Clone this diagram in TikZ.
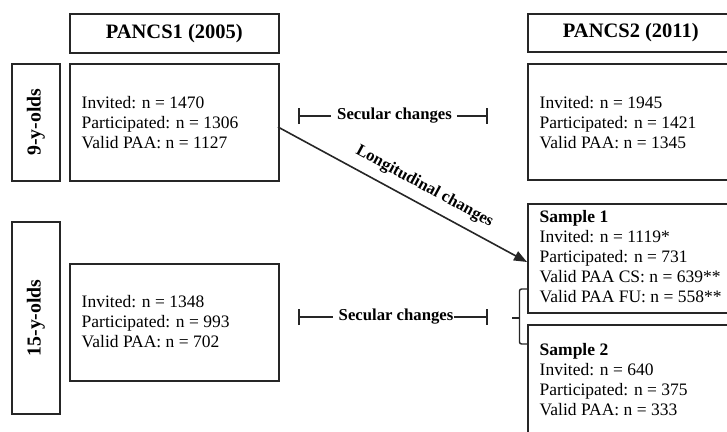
\documentclass[tikz,border=0pt]{standalone}
\usepackage{fontspec}
\setmainfont{Liberation Serif}
\usetikzlibrary{arrows.meta}
\tikzset{
  box/.style={draw=black!85, line width=1.6pt, anchor=north west, inner sep=0pt},
  datatext/.style={anchor=west, align=left, inner sep=0pt, font=\fontsize{17.5}{20}\selectfont},
  headtext/.style={font=\fontsize{20.5}{24}\selectfont\bfseries, inner sep=0pt},
  agetext/.style={font=\fontsize{19.8}{22}\selectfont\bfseries, rotate=90, inner sep=0pt},
  lbl/.style={font=\fontsize{16.7}{20}\selectfont\bfseries, inner sep=0pt},
  conn/.style={draw=black!85, line width=1.6pt},
}
\begin{document}
\begin{tikzpicture}[x=1pt,y=-1pt]
\useasboundingbox (0,0) rectangle (727,431);
\clip (0,0) rectangle (727,431);
% headers
\node[box, minimum width=209pt, minimum height=39pt] (h1) at (69,13) {};
\node[headtext] (h1t) at (h1.center) {PANCS1 (2005)};
\node[box, minimum width=206pt, minimum height=38pt] (h2) at (527,13) {};
\node[headtext] (h2t) at (h2.center) {PANCS2 (2011)};
% age boxes
\node[box, minimum width=48pt, minimum height=117pt] (a9) at (11,63) {};
\node[agetext] (a9t) at (a9.center) {9-y-olds};
\node[box, minimum width=48pt, minimum height=192pt] (a15) at (11,221) {};
\node[agetext] (a15t) at (a15.center) {15-y-olds};
% data boxes
\node[box, minimum width=209pt, minimum height=117pt] (p1a) at (69,63) {};
\node[datatext] (p1at) at (81.5,123) {Invited: n = 1470\\Participated: n = 1306\\Valid PAA: n = 1127};
\node[box, minimum width=209pt, minimum height=116pt] (p2a) at (527,63) {};
\node[datatext] (p2at) at (539.5,123) {Invited: n = 1945\\Participated: n = 1421\\Valid PAA: n = 1345};
\node[box, minimum width=209pt, minimum height=117pt] (p1b) at (69,263) {};
\node[datatext] (p1bt) at (81.5,322) {Invited: n = 1348\\Participated: n = 993\\Valid PAA: n = 702};
\node[box, minimum width=209pt, minimum height=109pt] (s1) at (527,203) {};
\node[datatext] (s1t) at (539.5,257) {\textbf{Sample 1}\\Invited: n = 1119*\\Participated: n = 731\\Valid PAA CS: n = 639**\\Valid PAA FU: n = 558**};
\node[box, minimum width=209pt, minimum height=130pt] (s2) at (527,324) {};
\node[datatext] (s2t) at (539.5,380) {\textbf{Sample 2}\\Invited: n = 640\\Participated: n = 375\\Valid PAA: n = 333};
% secular changes (top)
\coordinate (sl1) at (298,116);
\coordinate (sr1) at (488,116);
\node[lbl] (sec1) at (394.5,116) {Secular changes};
\draw[conn, {Bar[width=16pt,line width=1.6pt]}-] (sl1) -- ([xshift=-6pt]sec1.west);
\draw[conn, -{Bar[width=16pt,line width=1.6pt]}] ([xshift=5pt]sec1.east) -- (sr1);
% secular changes (bottom)
\coordinate (sl2) at (298,317);
\coordinate (sr2) at (488,317);
\node[lbl] (sec2) at (396,317) {Secular changes};
\draw[conn, {Bar[width=16pt,line width=1.6pt]}-] (sl2) -- ([xshift=-6pt]sec2.west);
\draw[conn, -{Bar[width=16pt,line width=1.6pt]}] ([xshift=1pt]sec2.east) -- (sr2);
% brace
\coordinate (bt) at (527,289);
\coordinate (bb) at (527,344);
\coordinate (bm) at (512,318);
\draw[conn, line width=1.4pt, rounded corners=2pt] (bt) -- (519.5,289) -- (519.5,344) -- (bb);
\draw[conn, line width=1.4pt] (bm) -- (519.5,318);
% longitudinal arrow
\coordinate (la) at (278,127);
\coordinate (lb) at (527,262);
\draw[conn, -{Triangle[length=13pt,width=10pt]}] (la) -- (lb)
  node[lbl, pos=0.555, sloped, above=9pt] (lt) {Longitudinal changes};
\end{tikzpicture}
\end{document}
